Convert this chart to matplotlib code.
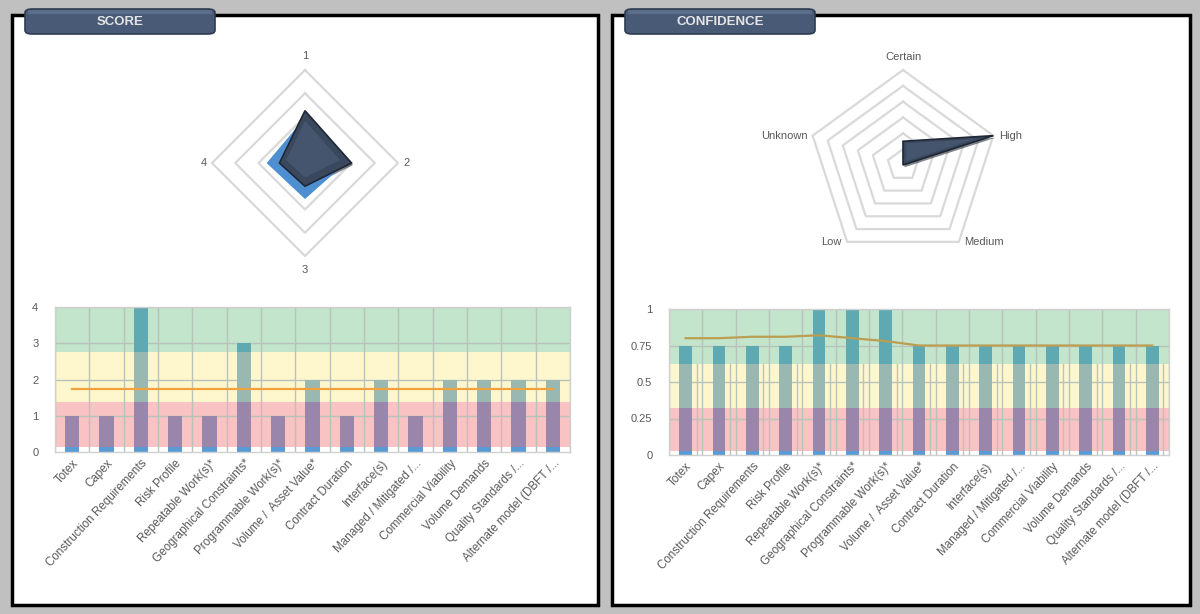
import numpy as np
import matplotlib
matplotlib.use("Agg")
import matplotlib.pyplot as plt
from matplotlib.patches import Rectangle, FancyBboxPatch

plt.rcParams['font.family'] = ['Liberation Sans', 'DejaVu Sans']

# ---- data ----
categories = ['Totex', 'Capex', 'Construction Requirements', 'Risk Profile',
              'Repeatable Work(s)*', 'Geographical Constraints*', 'Programmable Work(s)*',
              'Volume /  Asset Value*', 'Contract Duration', 'Interface(s)',
              'Managed / Mitigated /...', 'Commercial Viability', 'Volume Demands',
              'Quality Standards /...', 'Alternate model (DBFT /...']

score = [1, 1, 4, 1, 1, 3, 1, 2, 1, 2, 1, 2, 2, 2, 2]
score_avg = [1.73] * 15
score_bands = [0, 0.15, 1.37, 2.75, 4]

confidence = [0.75, 0.75, 0.75, 0.75, 1, 1, 1, 0.75, 0.75, 0.75, 0.75, 0.75, 0.75, 0.75, 0.75]
confidence_trend = [0.80, 0.80, 0.81, 0.81, 0.82, 0.80, 0.78, 0.75, 0.75, 0.75, 0.75, 0.75, 0.75, 0.75, 0.75]
conf_bands = [0, 0.03, 0.32, 0.625, 1]

score_axes = ['1', '2', '3', '4']
score_radar_dark = [2.25, 2.0, 1.0, 1.1]
score_radar_blue = [1.9, 1.7, 1.5, 1.6]

conf_axes = ['Certain', 'High', 'Medium', 'Low', 'Unknown']
conf_radar = [3, 12, 0, 0, 0]

# ---- styling ----
W, H = 1200, 614
band_colors = ['#ffffff', '#f9c2c3', '#fef6cd', '#c3e5cb']
bar_colors = ['#5b9bd5', '#9a86ab', '#99b8b2', '#5fa9b2']
text_grey = '#595959'
grid_grey = '#b8c4bb'

fig = plt.figure(figsize=(W / 100, H / 100), dpi=100)
fig.patch.set_facecolor('#c0c0c0')


def px_axes(x0, y0, x1, y1):
    return fig.add_axes([x0 / W, 1 - y1 / H, (x1 - x0) / W, (y1 - y0) / H], zorder=1)


# panels and header tabs
for (x0, x1), tab_x, title in [((12, 598), 25, 'SCORE'), ((612, 1190), 625, 'CONFIDENCE')]:
    fig.patches.append(Rectangle((x0 / W, 1 - 605 / H), (x1 - x0) / W, (605 - 15) / H,
                                 transform=fig.transFigure, facecolor='white',
                                 edgecolor='black', linewidth=2.5, zorder=-2))
    fig.patches.append(FancyBboxPatch((tab_x / W, 1 - 34 / H), 190 / W, 25 / H,
                                      boxstyle='round,pad=0,rounding_size=0.006',
                                      transform=fig.transFigure, facecolor='#485a76',
                                      edgecolor='#2f3c52', linewidth=1.2, zorder=2))
    fig.patches.append(Rectangle(((tab_x + 3) / W, 1 - 14 / H), 184 / W, 4 / H,
                                 transform=fig.transFigure, facecolor='#6a7b95',
                                 edgecolor='none', alpha=0.6, zorder=2.5))
    fig.text((tab_x + 95) / W, 1 - 22 / H, title, color='#e4e4e4', fontsize=9.5,
             fontweight='bold', ha='center', va='center', zorder=3)


def radar(ax, labels, values_list, colors, rings, rmax, lim, label_pad, shade=None):
    n = len(labels)
    ang = np.arange(n) * 2 * np.pi / n
    sx, sy = np.sin(ang), np.cos(ang)
    for r in rings:
        ax.plot(np.append(r * sx, r * sx[0]), np.append(r * sy, r * sy[0]),
                color='#d9d9d9', lw=1.6, zorder=1)
    for i, (vals, (fc, ec)) in enumerate(zip(values_list, colors)):
        v = np.array(vals, dtype=float)
        px, py = v * sx, v * sy
        if fc != '#4e8fd2':
            # soft drop shadow under the dark series
            off = lim * 0.012
            ax.fill(px + off, py - off * 1.5, facecolor='#1a212b', edgecolor='none',
                    alpha=0.55, zorder=2.5)
        ax.fill(px, py, facecolor=fc, edgecolor=ec, lw=1.2, zorder=3)
        if fc != '#4e8fd2':
            cx, cy = px.mean(), py.mean()
            ax.fill(cx + (px - cx) * 0.75 - lim * 0.01, cy + (py - cy) * 0.75 + lim * 0.01,
                    facecolor='#4d5e78', edgecolor='none', alpha=0.6, zorder=3.2)
    for lab, x, y in zip(labels, sx, sy):
        if abs(x) < 0.1:
            ax.text(0, (rmax + label_pad) * y, lab, ha='center', va='center',
                    fontsize=8, color=text_grey)
        else:
            ax.text(rmax * x + np.sign(x) * label_pad * 0.4, rmax * y, lab,
                    ha='left' if x > 0 else 'right', va='center', fontsize=8,
                    color=text_grey)
    ax.set_xlim(-lim, lim)
    ax.set_ylim(-lim, lim)
    ax.axis('off')


# score radar: centre (305,163), 4 units = 93 px
s = 93 / 4
ax_r1 = px_axes(305 - 5 * s, 163 - 5 * s, 305 + 5 * s, 163 + 5 * s)
radar(ax_r1, score_axes, [score_radar_blue, score_radar_dark],
      [('#4e8fd2', '#4e8fd2'), ('#3a485d', '#1f2735')], [1, 2, 3, 4], 4, 5, 0.6)

# confidence radar: centre (903,165), 12 units = 95 px
s = 95 / 12
ax_r2 = px_axes(903 - 16 * s, 165 - 16 * s, 903 + 16 * s, 165 + 16 * s)
radar(ax_r2, conf_axes, [conf_radar], [('#3a485d', '#1f2735')],
      [2, 4, 6, 8, 10, 12], 12, 16, 1.7)


def band_bars(ax, values, bands, line, lcolor, ymax, ticks, ticklabels, width,
              extra_grid=False):
    x = np.arange(len(values))
    v = np.array(values, dtype=float)
    for lo, hi, c in zip(bands[:-1], bands[1:], band_colors):
        ax.axhspan(lo, hi, color=c, zorder=0, lw=0)
    for b in np.arange(len(values) + 1) - 0.5:
        ax.axvline(b, color=grid_grey, lw=1, zorder=1)
        if extra_grid:
            ax.plot([b - 0.17, b - 0.17], [0, bands[3]], color=grid_grey, lw=1, zorder=1)
    for t in ticks[1:]:
        ax.axhline(t, color=grid_grey, lw=1, zorder=1)
    for lo, hi, c in zip(bands[:-1], bands[1:], bar_colors):
        seg = np.clip(v, lo, hi) - lo
        ax.bar(x, seg, bottom=lo, width=width, color=c, zorder=2, lw=0)
    ax.plot(x, line, color=lcolor, lw=1.6, zorder=3)
    ax.set_xlim(-0.5, len(values) - 0.5)
    ax.set_ylim(0, ymax)
    ax.set_yticks(ticks)
    ax.set_yticklabels(ticklabels)
    ax.set_xticks(x)
    ax.set_xticklabels(categories, rotation=47, ha='right', rotation_mode='anchor')
    ax.tick_params(length=0, labelsize=8, labelcolor=text_grey)
    ax.tick_params(axis='x', labelsize=8.4)
    ax.tick_params(axis='y', pad=12)
    ax.tick_params(axis='x', pad=4)
    for sp in ax.spines.values():
        sp.set_color('#d0d0d0')
        sp.set_linewidth(1)


ax_b1 = px_axes(55, 307, 570, 452)
ax_b2 = px_axes(669, 309, 1169, 455)

band_bars(ax_b1, score, score_bands, score_avg, '#f0a23c', 4, [0, 1, 2, 3, 4],
          ['0', '1', '2', '3', '4'], 0.42)
band_bars(ax_b2, confidence, conf_bands, confidence_trend, '#bb9e52', 1,
          [0, 0.25, 0.5, 0.75, 1], ['0', '0.25', '0.5', '0.75', '1'], 0.38,
          extra_grid=True)

fig.savefig('out.png', dpi=100, facecolor=fig.get_facecolor())
